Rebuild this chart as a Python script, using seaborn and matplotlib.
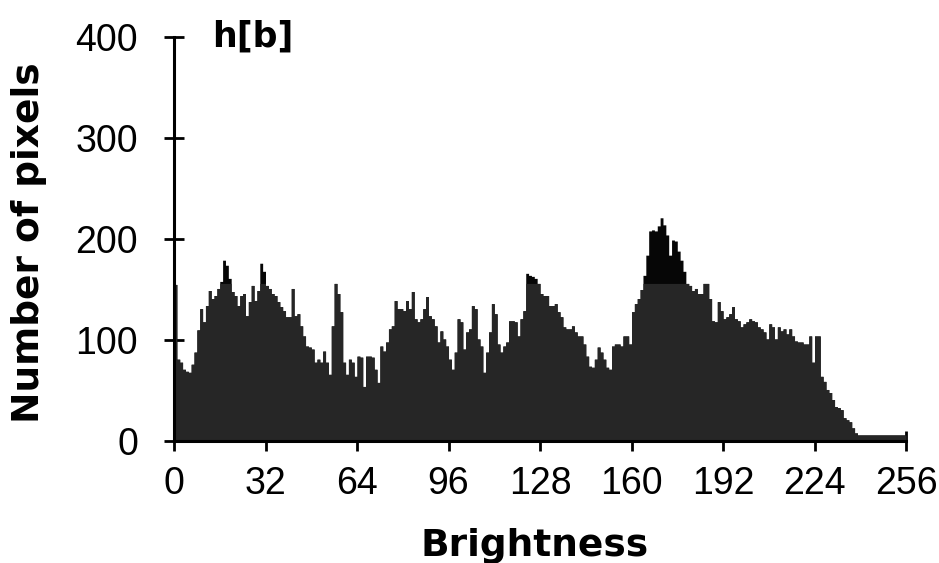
import numpy as np
import pandas as pd
import matplotlib
matplotlib.use("Agg")
import matplotlib.pyplot as plt
import seaborn as sns

# ---- data (count per brightness value 0..255) ----
brightness = list(range(256))
counts = [
    155, 81, 78, 71, 69, 68, 76, 88, 110, 131,
    118, 134, 149, 141, 144, 151, 158, 179, 174, 161,
    148, 144, 134, 144, 146, 124, 138, 154, 139, 149,
    176, 168, 154, 151, 146, 144, 138, 133, 129, 123,
    123, 151, 124, 126, 114, 104, 94, 93, 91, 78,
    81, 78, 89, 78, 66, 114, 156, 146, 128, 78,
    66, 81, 78, 64, 84, 83, 54, 84, 84, 83,
    71, 58, 94, 89, 98, 111, 114, 139, 131, 131,
    129, 139, 131, 148, 121, 118, 121, 131, 143, 124,
    121, 114, 98, 109, 101, 94, 81, 71, 88, 121,
    118, 91, 108, 111, 134, 131, 101, 94, 68, 88,
    108, 136, 126, 96, 88, 94, 98, 119, 119, 118,
    104, 121, 129, 166, 164, 163, 161, 156, 146, 144,
    144, 134, 134, 136, 128, 123, 113, 111, 111, 114,
    108, 104, 104, 96, 84, 74, 73, 81, 93, 88,
    81, 73, 71, 94, 96, 96, 94, 104, 104, 96,
    128, 136, 141, 150, 164, 184, 208, 209, 208, 213,
    221, 214, 204, 184, 199, 198, 188, 179, 168, 156,
    154, 149, 151, 146, 146, 156, 156, 141, 119, 118,
    138, 129, 121, 123, 126, 133, 121, 119, 113, 116,
    118, 121, 119, 118, 113, 111, 108, 101, 116, 113,
    101, 113, 109, 111, 106, 111, 104, 99, 98, 98,
    96, 96, 104, 78, 104, 104, 64, 59, 51, 48,
    41, 34, 33, 31, 23, 21, 19, 13, 8, 6,
    6, 6, 6, 6, 6, 6, 6, 6, 6, 6,
    6, 6, 6, 6, 6, 6,
]
x_ticks = [0, 32, 64, 96, 128, 160, 192, 224, 256]
y_ticks = [0, 100, 200, 300, 400]
x_label = "Brightness"
y_label = "Number of pixels"
title_text = "h[b]"
dark_level = 156  # scan shading: tops above this level look darker

sns.set_theme(style="white")
plt.rcParams["font.family"] = ["Liberation Sans", "DejaVu Sans"]
plt.rcParams["text.color"] = "black"

fig = plt.figure(figsize=(9.39, 5.63), dpi=100)
ax = fig.add_axes([0.1853, 0.2167, 0.7796, 0.7176])

df = pd.DataFrame({"b": brightness, "n": counts})
df["n_low"] = np.minimum(df["n"], dark_level)

sns.histplot(data=df, x="b", weights="n", bins=256, binrange=(0, 256),
             element="step", fill=True, color="#060606", alpha=1,
             linewidth=0, ax=ax)
sns.histplot(data=df, x="b", weights="n_low", bins=256, binrange=(0, 256),
             element="step", fill=True, color="#262626", alpha=1,
             linewidth=0, ax=ax)

ax.set_xlim(0, 256)
ax.set_ylim(0, 400)
ax.set_xticks(x_ticks)
ax.set_yticks(y_ticks)
ax.set_xlabel("")
ax.set_ylabel("")
for s in ["top", "right"]:
    ax.spines[s].set_visible(False)
for s in ["left", "bottom"]:
    ax.spines[s].set_color("black")
    ax.spines[s].set_linewidth(2.2)
    ax.spines[s].set_zorder(5)
ax.tick_params(axis="both", direction="inout", length=14, width=2,
               color="black", labelsize=27, labelcolor="black",
               bottom=True, left=True)
ax.tick_params(axis="y", pad=19)
ax.tick_params(axis="x", pad=11)
ax.patch.set_alpha(0)

fig.text(535 / 939, 1 - 556 / 563, x_label, ha="center", va="baseline",
         fontsize=27, fontweight="bold", family=["DejaVu Sans"], color="black")
fig.text(29 / 939, 1 - 243 / 563, y_label, ha="center", va="center",
         rotation=90, fontsize=27, fontweight="bold", family=["DejaVu Sans"],
         color="black")
fig.text(212 / 939, 1 - 47 / 563, title_text, ha="left", va="baseline",
         fontsize=25, fontweight="bold", family=["DejaVu Sans"], color="black")

fig.savefig("out.png", dpi=100, facecolor="white")
